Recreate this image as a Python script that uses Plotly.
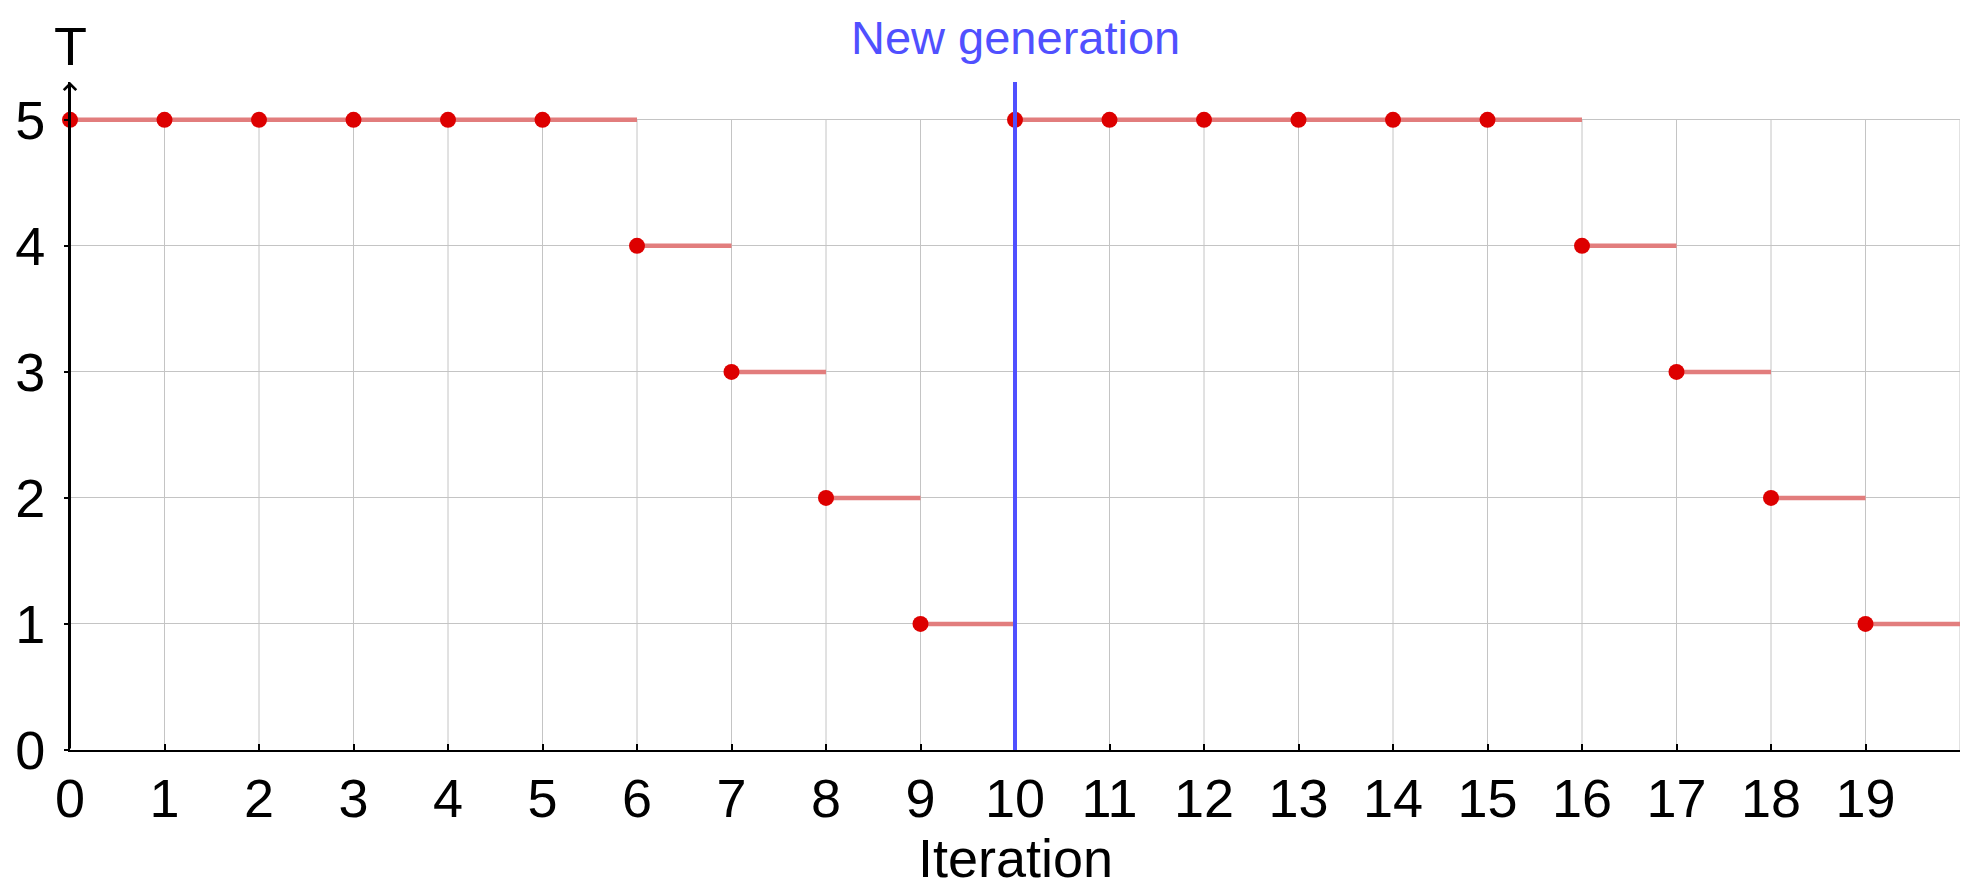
import plotly.graph_objects as go

iterations = list(range(20))
T_values = [5, 5, 5, 5, 5, 5, 4, 3, 2, 1, 5, 5, 5, 5, 5, 5, 4, 3, 2, 1]
x_tick_labels = [str(i) for i in range(20)]
y_ticks = [0, 1, 2, 3, 4, 5]
grid_x = list(range(1, 21))
new_generation_at = 10

FONT = "Liberation Sans"
Y_TOP = 5.3
GRID = "#c4c4c4"

# step segments: from (i, T_i) to (i+1, T_i)
seg_x, seg_y = [], []
for i, t in zip(iterations, T_values):
    seg_x += [i, i + 1, None]
    seg_y += [t, t, None]

fig = go.Figure()

# vertical grid lines, only up to the top tick
for gx in grid_x:
    fig.add_shape(type="line", xref="x", yref="y", x0=gx, x1=gx,
                  y0=y_ticks[0], y1=y_ticks[-1],
                  line=dict(color=GRID, width=1), layer="below")

fig.add_trace(go.Scatter(x=seg_x, y=seg_y, mode="lines",
                         line=dict(color="#e27d7d", width=4.5),
                         hoverinfo="skip", cliponaxis=False))
fig.add_trace(go.Scatter(x=iterations, y=T_values, mode="markers",
                         marker=dict(color="#dd0000", size=16, line=dict(width=0)),
                         cliponaxis=False))

# new generation vertical line
fig.add_shape(type="line", xref="x", yref="y",
              x0=new_generation_at, x1=new_generation_at, y0=0, y1=Y_TOP,
              line=dict(color="#5050ff", width=4), layer="above")

# y axis arrow
fig.add_annotation(x=0, y=Y_TOP, xref="x", yref="y", ax=0, ay=0, axref="x", ayref="y",
                   showarrow=True, arrowhead=4, arrowsize=1.2, arrowwidth=2,
                   arrowcolor="black", text="")
fig.add_annotation(x=0, y=1, xref="x", yref="paper", text="T", showarrow=False,
                   yanchor="bottom", yshift=4, font=dict(family=FONT, size=54, color="black"))
fig.add_annotation(x=new_generation_at, y=1.066, xref="x", yref="paper",
                   text="New generation", showarrow=False, yanchor="middle",
                   font=dict(family=FONT, size=47, color="#5050ff"))
fig.add_annotation(x=0.5, y=-0.1617, xref="paper", yref="paper",
                   text="Iteration", showarrow=False, yanchor="middle",
                   font=dict(family=FONT, size=54, color="black"))

fig.update_layout(
    width=1962, height=895,
    margin=dict(l=70, r=2, t=82, b=145),
    plot_bgcolor="white", paper_bgcolor="white",
    showlegend=False,
    font=dict(family=FONT, size=54, color="black"),
    xaxis=dict(range=[0, 20], tickvals=iterations, ticktext=x_tick_labels,
               showgrid=False, automargin=False,
               showline=True, linecolor="black", linewidth=2,
               ticks="inside", ticklen=6, tickwidth=2, tickcolor="black",
               zeroline=False, tickfont=dict(family=FONT, size=54)),
    yaxis=dict(range=[0, Y_TOP], tickvals=y_ticks, automargin=False,
               showgrid=True, gridcolor=GRID, gridwidth=1,
               showline=True, linecolor="black", linewidth=2,
               ticks="outside", ticklen=4, tickwidth=2, tickcolor="black",
               zeroline=False, tickfont=dict(family=FONT, size=54),
               ticklabelstandoff=8),
)

fig.write_html("out.html", config={"displayModeBar": False},
               post_script="document.body.style.margin='0';document.body.style.overflow='hidden';")
